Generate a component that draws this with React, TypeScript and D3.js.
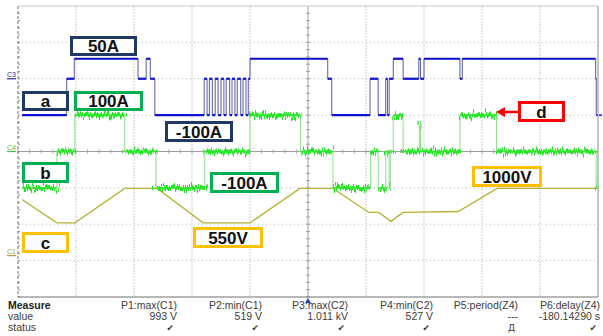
import React from 'react';
import * as d3 from 'd3';

const W = 603;
const H = 336;
const plot = { left: 18, right: 598, top: 6, bottom: 297 };

// time in screen divisions (10 across), read off the capture
// C3 (blue): current, 100 A/div, ground 2 div above centre
const blueT = [
  0.07, 0.84, 0.97, 2.07, 2.21, 2.28, 2.36,
  3.21, 3.26, 3.3, 3.35, 3.4, 3.45, 3.5, 3.55, 3.59, 3.65, 3.69, 3.74, 3.78, 3.84, 3.88, 3.93, 3.97, 4.0,
  5.34, 5.41, 6.07, 6.21, 6.34, 6.37, 6.4, 6.47, 6.64, 6.91, 6.94, 7.0, 7.62, 7.66, 9.96, 9.97, 9.99,
];
const blueA = [
  -100, 0, 55, 0, 55, 0, -100,
  0, -100, 0, -100, 0, -100, 0, -100, 0, -100, 0, -100, 0, -100, 0, -100, 0, 55,
  0, -100, 0, -100, 0, -100, 0, 55, 0, 55, 0, 55, 0, 55, 0, -100, -100,
];

// C4 (green): current, 100 A/div, ground at centre
const greenT = [
  0.07, 0.67, 0.98, 1.84, 2.38, 3.22, 4.0, 4.87, 5.43, 6.08, 6.21, 6.34, 6.4, 6.42, 6.47, 6.64,
  6.92, 6.94, 7.62, 8.25, 9.97, 9.99,
];
const greenA = [
  -100, 0, 100, 0, -100, 0, 100, 0, -100, 0, -100, 0, -100, 0, 100, 0,
  70, 0, 100, 0, -100, -100,
];

// C1 (yellow): voltage, 500 V/div, ground 3 div below centre
const yellowT = [0.07, 0.67, 0.98, 1.84, 2.4, 3.19, 4.0, 4.86, 5.43, 6.05, 6.22, 6.43, 6.64, 7.59, 8.26, 9.98];
const yellowV = [841, 519, 519, 993, 993, 519, 519, 993, 993, 662, 662, 540, 662, 675, 993, 993];

const measureNames = ['P1:max(C1)', 'P2:min(C1)', 'P3:max(C2)', 'P4:min(C2)', 'P5:period(Z4)', 'P6:delay(Z4)'];
const measureValues = ['993 V', '519 V', '1.011 kV', '527 V', '---', '-180.14290 s'];
const measureStatus = ['✔', '✔', '✔', '✔', 'Д', '✔'];

const notes = [
  { text: '50A', color: '#1f3864', x0: 70, x1: 137, y0: 36, y1: 56 },
  { text: 'a', color: '#1f3864', x0: 22, x1: 69, y0: 91, y1: 111 },
  { text: '100A', color: '#00b050', x0: 74, x1: 143, y0: 91, y1: 111 },
  { text: '-100A', color: '#1f3864', x0: 165, x1: 233, y0: 121, y1: 142 },
  { text: 'b', color: '#00b050', x0: 22, x1: 69, y0: 162, y1: 183 },
  { text: '-100A', color: '#00b050', x0: 210, x1: 279, y0: 172, y1: 193 },
  { text: 'c', color: '#ffc000', x0: 22, x1: 69, y0: 232, y1: 253 },
  { text: '550V', color: '#ffc000', x0: 193, x1: 263, y0: 227, y1: 248 },
  { text: '1000V', color: '#ffc000', x0: 472, x1: 542, y0: 166, y1: 187 },
  { text: 'd', color: '#ff0000', x0: 518, x1: 565, y0: 101, y1: 122 },
];

const x = d3.scaleLinear().domain([0, 10]).range([plot.left, plot.right]);
const y = d3.scaleLinear().domain([-4, 4]).range([plot.bottom, plot.top]);
const blueY = (a: number) => y(2 + a / 100);
const greenY = (a: number) => y(a / 100);
const yellowY = (v: number) => y(-3 + v / 500);

const stepLine = d3.line<[number, number]>().curve(d3.curveStepAfter);
const straight = d3.line<[number, number]>();

function segments(ts: number[], vs: number[], fy: (v: number) => number) {
  const out: [number, number, number][] = [];
  for (let i = 0; i < ts.length - 1; i++) out.push([x(ts[i]), x(ts[i + 1]), fy(vs[i])]);
  return out;
}

export default function App() {
  const bluePts = blueT.map((t, i) => [x(t), blueY(blueA[i])] as [number, number]);
  const greenPts = greenT.map((t, i) => [x(t), greenY(greenA[i])] as [number, number]);
  const yellowPts = yellowT.map((t, i) => [x(t), yellowY(yellowV[i])] as [number, number]);
  const blueSegs = segments(blueT, blueA, blueY);
  const greenSegs = segments(greenT, greenA, greenY);
  const cx = x(5);
  const cy = y(0);

  const markers = [
    { label: 'C3', color: '#2a2aa0', yy: blueY(0) },
    { label: 'C4', color: '#4cbf4c', yy: greenY(0) },
    { label: 'C1', color: '#a8a040', yy: yellowY(0) - 5 },
  ];

  const colRight = [177, 262, 348, 433, 518, 600];

  return (
    <svg width={W} height={H} style={{ position: 'fixed', left: 0, top: 0, background: '#fff' }}
      fontFamily="'Liberation Sans', Arial, sans-serif">
      <defs>
        <filter id="scopeNoise" x="-2%" y="-40%" width="104%" height="180%">
          <feTurbulence type="fractalNoise" baseFrequency="1.1 0.02" numOctaves="2" seed="7" result="n" />
          <feDisplacementMap in="SourceGraphic" in2="n" scale="14" xChannelSelector="R" yChannelSelector="G" />
        </filter>
      </defs>
      <rect width={W} height={H} fill="#fff" />

      {/* grid */}
      {d3.range(1, 10).filter((k) => k !== 5).map((k) => (
        <line key={'v' + k} x1={x(k)} x2={x(k)} y1={plot.top} y2={plot.bottom}
          stroke="#cfcfcf" strokeDasharray="2 1" />
      ))}
      {d3.range(-3, 4).filter((k) => k !== 0).map((k) => (
        <line key={'h' + k} x1={plot.left} x2={plot.right} y1={y(k)} y2={y(k)}
          stroke="#b5b5b5" strokeDasharray="1 3" />
      ))}
      <line x1={plot.left} x2={plot.right} y1={cy} y2={cy} stroke="#a0a0a0" />
      <line x1={cx} x2={cx} y1={plot.top} y2={plot.bottom} stroke="#a0a0a0" />
      {d3.range(0, 50).map((k) => (
        <line key={'tx' + k} x1={x(k / 5)} x2={x(k / 5)} y1={cy - 2} y2={cy + 2} stroke="#a0a0a0" />
      ))}
      {d3.range(-20, 20).map((k) => (
        <line key={'ty' + k} x1={cx - 2} x2={cx + 2} y1={y(k / 5)} y2={y(k / 5)} stroke="#a0a0a0" />
      ))}
      {d3.range(-20, 20).map((k) => (
        <line key={'tl' + k} x1={plot.left} x2={plot.left + 2} y1={y(k / 5)} y2={y(k / 5)} stroke="#909090" />
      ))}

      {/* frame */}
      <line x1={plot.left} x2={plot.right} y1={plot.top} y2={plot.top} stroke="#c8c8c8" />
      <line x1={plot.left} x2={plot.left} y1={plot.top} y2={plot.bottom} stroke="#707070" strokeDasharray="3 2" />
      <line x1={plot.right} x2={plot.right} y1={plot.top} y2={plot.bottom} stroke="#8a8a8a" />
      <line x1={plot.left} x2={plot.right} y1={plot.bottom} y2={plot.bottom} stroke="#707070" />

      {/* channel markers */}
      {markers.map((m) => (
        <g key={m.label}>
          <text x={7} y={m.yy - 2} fontSize={7} fill={m.color}>{m.label}</text>
          <line x1={7} x2={16} y1={m.yy} y2={m.yy} stroke={m.color} strokeWidth={1.2} />
        </g>
      ))}

      {/* C1 yellow */}
      <path d={straight(yellowPts) ?? ''} fill="none" stroke="#b3b336" strokeWidth={1.3} />

      {/* C4 green */}
      <path d={stepLine(greenPts) ?? ''} fill="none" stroke="#8fe08f" strokeWidth={1} />
      <g filter="url(#scopeNoise)">
        {greenSegs.map(([a, b, yy], i) => (
          <line key={i} x1={a} x2={b} y1={yy} y2={yy} stroke="#1ee81e" strokeWidth={4} />
        ))}
      </g>
      {greenSegs.map(([a, b, yy], i) => (
        <line key={'g' + i} x1={a} x2={b} y1={yy} y2={yy} stroke="#2fe62f" strokeWidth={1.6} />
      ))}

      {/* C3 blue */}
      <path d={stepLine(bluePts) ?? ''} fill="none" stroke="#5a5aa6" strokeWidth={1} />
      {blueSegs.map(([a, b, yy], i) => (
        <line key={'b' + i} x1={a} x2={b} y1={yy} y2={yy} stroke="#1010d4" strokeWidth={2.2} />
      ))}

      {/* trigger and offset markers */}
      <path d={`M${cx - 3},${plot.bottom + 6} L${cx + 3},${plot.bottom + 6} L${cx},${plot.bottom + 1} Z`} fill="#1f3fbf" />
      <line x1={plot.right + 1} x2={plot.right + 4} y1={blueY(-100)} y2={blueY(-100)} stroke="#1010d4" strokeWidth={1.5} />

      {/* annotation boxes */}
      {notes.map((n, i) => (
        <g key={'n' + i}>
          <rect x={n.x0 + 1.5} y={n.y0 + 1.5} width={n.x1 - n.x0 - 3} height={n.y1 - n.y0 - 3}
            fill="#fff" stroke={n.color} strokeWidth={3} />
          <text x={(n.x0 + n.x1) / 2} y={(n.y0 + n.y1) / 2 + 6} textAnchor="middle"
            fontSize={17} fontWeight="bold" fill="#111">{n.text}</text>
        </g>
      ))}
      <line x1={518} x2={503} y1={112} y2={112} stroke="#ff0000" strokeWidth={2.5} />
      <path d="M496,112 L505,107 L505,117 Z" fill="#ff0000" />

      {/* measurement table */}
      <g fontSize={10.5} fill="#3c3c3c">
        <text x={8} y={309} fontWeight="bold" fill="#222">Measure</text>
        <text x={8} y={320}>value</text>
        <text x={8} y={331}>status</text>
        {measureNames.map((m, i) => (
          <g key={m} textAnchor="end">
            <text x={colRight[i]} y={309}>{m}</text>
            <text x={colRight[i]} y={320}>{measureValues[i]}</text>
            <text x={colRight[i] - 3} y={331} fontSize={9} fontFamily="'DejaVu Sans', sans-serif">{measureStatus[i]}</text>
          </g>
        ))}
      </g>
    </svg>
  );
}
